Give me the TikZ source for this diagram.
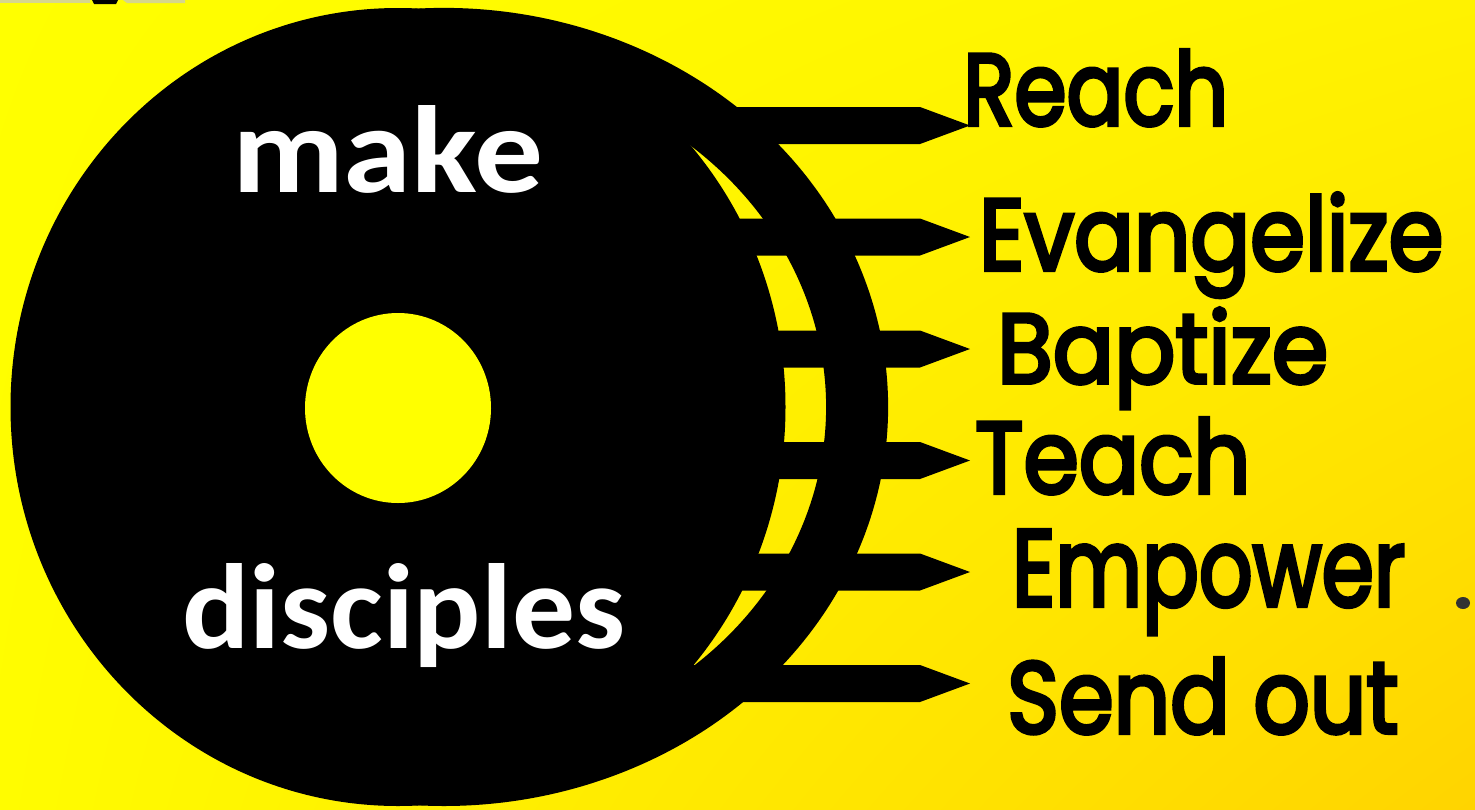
\documentclass[tikz,border=0pt]{standalone}
\usepackage{fontspec}
\usepackage{graphicx}
\usetikzlibrary{calc,shadings}
\newfontfamily\calibf{Carlito}
\newfontfamily\comicf[FakeBold=4]{Poppins}
\definecolor{bgUL}{RGB}{255,255,0}
\definecolor{bgUR}{RGB}{255,242,0}
\definecolor{bgLL}{RGB}{255,252,0}
\definecolor{bgLR}{RGB}{255,212,0}
\definecolor{holeY}{RGB}{255,255,0}
\definecolor{khaki}{RGB}{214,214,140}
\definecolor{dotgrey}{RGB}{50,50,50}
\tikzset{
  disc/.style={fill=black},
  arrowbar/.style={fill=black},
  lbl/.style={anchor=base west, inner sep=0pt, text=black},
  wlbl/.style={anchor=base west, inner sep=0pt, text=white},
}
\newcommand{\lblbox}[3]{\resizebox{#1pt}{#2pt}{\comicf #3}}
\newcommand{\wbox}[3]{\resizebox{#1pt}{#2pt}{\calibf\bfseries #3}}
\begin{document}
\begin{tikzpicture}[x=1pt,y=-1pt]
\useasboundingbox (0,0) rectangle (1475,809);
\shade[upper left=bgUL, upper right=bgUR, lower left=bgLL, lower right=bgLR] (0,0) rectangle (1475,809);
% cropped remnants at the top edge
\fill[khaki] (0,0) rectangle (90,2.5);
\fill[black] (92,0) -- (118,0) -- (116,4) -- (94,4) -- cycle;
\fill[khaki] (123,0) -- (185,0) -- (185,3) -- (127,3) -- cycle;
% main disc
\fill[disc] (398,407) ellipse [x radius=387.5pt, y radius=399pt];
% outer band (block arc)
\coordinate (C) at (444,407);
\fill[disc] ($(C)+(110:444pt and 399pt)$) arc[start angle=110, end angle=-110, x radius=444pt, y radius=399pt]
  -- ($(C)+(-110:382pt and 342pt)$) arc[start angle=-110, end angle=110, x radius=382pt, y radius=342pt] -- cycle;
% hole
\fill[holeY] (398,408) ellipse [x radius=93pt, y radius=95pt];
% arrows
\foreach \c/\n in {125.5/a1,237/a2,349/a3,460.5/a4,572/a5,683.5/a6}{
  \fill[arrowbar] (640,\c-18.5) -- (920,\c-18.5) -- (970,\c) -- (920,\c+18.5) -- (640,\c+18.5) -- cycle;
  \coordinate (\n) at (970,\c);
}
% centre words
\node[wlbl] (make) at (232,192) {\wbox{311}{87}{make}};
\node[wlbl] (disciples) at (182,648) {\wbox{443}{85}{disciples}};
% labels
\node[lbl] (reach) at (963,125) {\lblbox{265}{75}{Reach}};
\node[lbl] (evangelize) at (979,270) {\lblbox{464}{77}{Evangelize}};
\node[lbl] (baptize) at (997,383) {\lblbox{331}{75}{Baptize}};
\node[lbl] (teach) at (975,493) {\lblbox{275}{75}{Teach}};
\node[lbl] (empower) at (1012,606) {\lblbox{393}{76}{Empower}};
\node[lbl] (sendout) at (1007,733) {\lblbox{391}{75}{Send out}};
\fill[dotgrey] (1463,603) ellipse [x radius=7pt, y radius=6pt];
\end{tikzpicture}
\end{document}
